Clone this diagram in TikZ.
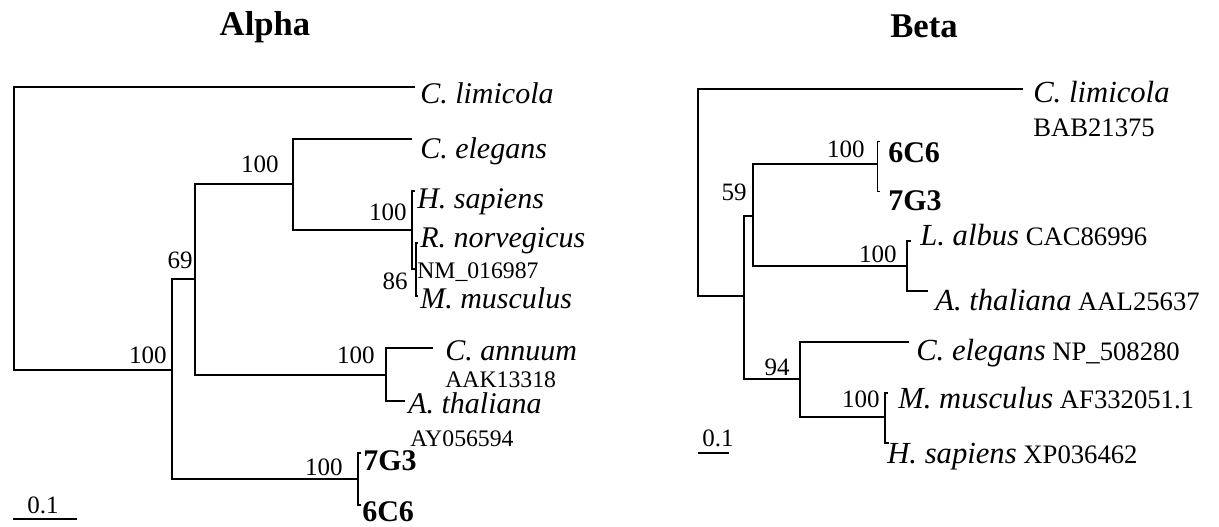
\documentclass[tikz,border=0pt]{standalone}
\usepackage{fontspec}
\setmainfont{Liberation Serif}
\newcommand\spnameR[1]{{\fontsize{23}{25}\selectfont\itshape #1}}
\begin{document}
\begin{tikzpicture}[x=0.75pt,y=-0.75pt,
  branchL/.style={line width=1.5pt},
  branchR/.style={line width=1pt},
  scalebar/.style={line width=0.9pt},
  taxonL/.style={anchor=base west,inner sep=0pt,font=\fontsize{22.5}{25}\selectfont\itshape},
  accL/.style={anchor=base west,inner sep=0pt,font=\fontsize{17.8}{21}\selectfont},
  accR/.style={anchor=base west,inner sep=0pt,font=\fontsize{20}{22}\selectfont},
  clone/.style={anchor=base west,inner sep=0pt,font=\fontsize{22.5}{25}\selectfont\bfseries},
  boot/.style={anchor=base east,inner sep=0pt,font=\fontsize{18.75}{22}\selectfont},
  scalelbl/.style={anchor=base,inner sep=0pt,font=\fontsize{18.75}{22}\selectfont},
  treetitle/.style={anchor=base,inner sep=0pt,font=\fontsize{26}{30}\selectfont\bfseries},
]
\useasboundingbox (0,0) rectangle (1219,526);

% ---------------- Alpha tree ----------------
\node[treetitle] (titleA) at (265,35) {Alpha};

% internal nodes
\coordinate (a0) at (14,228);
\coordinate (a1) at (172,370);
\coordinate (a2) at (195,279);
\coordinate (a3) at (293,184);
\coordinate (a4) at (386,375);
\coordinate (a5) at (358,479);
\coordinate (a6) at (411.5,230);
\coordinate (a7) at (415.5,269);
% leaves
\coordinate (lCLim) at (415,87);
\coordinate (lCEle) at (412,139);
\coordinate (lHsap) at (415,191);
\coordinate (lRnor) at (418,243);
\coordinate (lMmus) at (418,296);
\coordinate (lCann) at (433,348);
\coordinate (lAtha) at (405,401);
\coordinate (l7G3)  at (361,453);
\coordinate (l6C6)  at (361,505);

\draw[branchL] (a0) |- (lCLim);
\draw[branchL] (a0) |- (a1);
\draw[branchL] (a1) |- (a2);
\draw[branchL] (a1) |- (a5);
\draw[branchL] (a2) |- (a3);
\draw[branchL] (a2) |- (a4);
\draw[branchL] (a3) |- (lCEle);
\draw[branchL] (a3) |- (a6);
\draw[branchL] (a6) |- (lHsap);
\draw[branchL] (a6) |- (a7);
\draw[branchL] (a7) |- (lRnor);
\draw[branchL] (a7) |- (lMmus);
\draw[branchL] (a4) |- (lCann);
\draw[branchL] (a4) |- (lAtha);
\draw[branchL] (a5) |- (l7G3);
\draw[branchL] (a5) |- (l6C6);

% bootstrap values
\node[boot] (bA0) at (167,363) {100};
\node[boot] (bA2) at (193,268) {69};
\node[boot] (bA3) at (279,172) {100};
\node[boot] (bA6) at (407,220) {100};
\node[boot] (bA7) at (408,289) {86};
\node[boot] (bA4) at (375,363) {100};
\node[boot] (bA5) at (343,475) {100};

% leaf labels
\node[taxonL] (nCLimA) at (420,103) {C. limicola};
\node[taxonL] (nCEleA) at (420,158) {C. elegans};
\node[taxonL] (nHsapA) at (417,208) {H. sapiens};
\node[taxonL] (nRnorA) at (420,247) {R. norvegicus};
\node[accL]   (nRnorAcc) at (417,278) {NM\_016987};
\node[taxonL] (nMmusA) at (420,308) {M. musculus};
\node[taxonL] (nCannA) at (445,360) {C. annuum};
\node[accL]   (nCannAcc) at (445,387) {AAK13318};
\node[taxonL] (nAthaA) at (408,413) {A. thaliana};
\node[accL]   (nAthaAcc) at (410,446) {AY056594};
\node[clone]  (n7G3A) at (363,470) {7G3};
\node[clone]  (n6C6A) at (362,521) {6C6};

% scale bar
\coordinate (sA1) at (13,519);
\coordinate (sA2) at (77,519);
\draw[scalebar] (sA1) -- (sA2);
\node[scalelbl] (sAl) at (43,513) {0.1};

% ---------------- Beta tree ----------------
\node[treetitle] (titleB) at (924,37) {Beta};

% internal nodes
\coordinate (b0) at (698,200);
\coordinate (b1) at (744,296);
\coordinate (b2) at (753,216);
\coordinate (b3) at (877,164);
\coordinate (b4) at (907,266);
\coordinate (b5) at (800,379);
\coordinate (b6) at (885,417);
% leaves
\coordinate (rCLim) at (1023,89);
\coordinate (r6C6)  at (880,141);
\coordinate (r7G3)  at (880,191);
\coordinate (rLalb) at (911,241);
\coordinate (rAtha) at (928,291);
\coordinate (rCEle) at (909,342);
\coordinate (rMmus) at (888,393);
\coordinate (rHsap) at (889,443);

\draw[branchR] (b0) |- (rCLim);
\draw[branchR] (b0) |- (b1);
\draw[branchR] (b1) |- (b2);
\draw[branchR] (b1) |- (b5);
\draw[branchR] (b2) |- (b3);
\draw[branchR] (b2) |- (b4);
\draw[branchR,line width=0.7pt] (b3) |- (r6C6);
\draw[branchR,line width=0.7pt] (b3) |- (r7G3);
\draw[branchR] (b4) |- (rLalb);
\draw[branchR] (b4) |- (rAtha);
\draw[branchR] (b5) |- (rCEle);
\draw[branchR] (b5) |- (b6);
\draw[branchR] (b6) |- (rMmus);
\draw[branchR] (b6) |- (rHsap);

% bootstrap values
\node[boot] (bB2) at (747,200) {59};
\node[boot] (bB3) at (865,157) {100};
\node[boot] (bB4) at (897,262) {100};
\node[boot] (bB5) at (790,375) {94};
\node[boot] (bB6) at (880,407) {100};

% leaf labels
\node[accR] (nCLimB) at (1033,102) {\spnameR{C. limicola}};
\node[accR] (nCLimAcc) at (1033,136) {BAB21375};
\node[clone] (n6C6B) at (888,162) {6C6};
\node[clone] (n7G3B) at (888,210) {7G3};
\node[accR] (nLalbB) at (920,245) {\spnameR{L. albus} CAC86996};
\node[accR] (nAthaB) at (935,310) {\spnameR{A. thaliana} AAL25637};
\node[accR] (nCEleB) at (916,360) {\spnameR{C. elegans} NP\_508280};
\node[accR] (nMmusB) at (898,408) {\spnameR{M. musculus} AF332051.1};
\node[accR] (nHsapB) at (887,463) {\spnameR{H. sapiens} XP036462};

% scale bar
\coordinate (sB1) at (698,453);
\coordinate (sB2) at (729,453);
\draw[scalebar] (sB1) -- (sB2);
\node[scalelbl] (sBl) at (718,446) {0.1};
\end{tikzpicture}
\end{document}
